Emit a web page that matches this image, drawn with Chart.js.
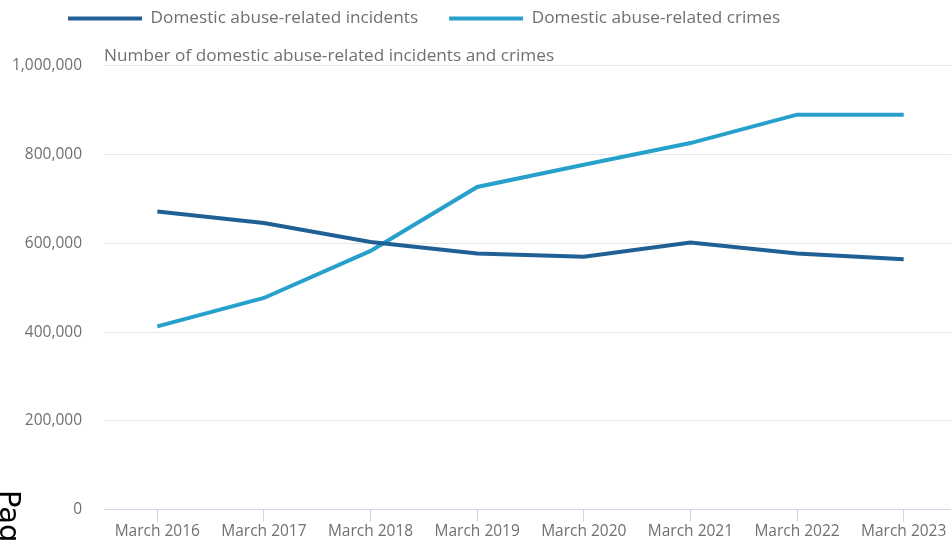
<!DOCTYPE html>
<html lang="en">
<head>
<meta charset="utf-8">
<title>Domestic abuse-related incidents and crimes</title>
<script src="https://cdn.jsdelivr.net/npm/chart.js@4/dist/chart.umd.min.js"></script>
<style>
    html, body { margin: 0; padding: 0; background: #fff; overflow: hidden; }
    #wrap { position: relative; width: 960px; height: 541px; }
    #page-tag {
        position: absolute;
        left: 24px;
        top: 490px;
        transform: rotate(90deg);
        transform-origin: 0 0;
        font-family: "DejaVu Sans", sans-serif;
        font-size: 29px;
        line-height: 28px;
        color: #000;
        white-space: nowrap;
    }
</style>
</head>
<body>
<div id="wrap">
    <canvas id="daChart" width="960" height="541"></canvas>
    <div id="page-tag">Page</div>
</div>
<script>
// Year ending March, England and Wales
const years = ["March 2016", "March 2017", "March 2018", "March 2019",
               "March 2020", "March 2021", "March 2022", "March 2023"];
const incidents = [672000, 646000, 603000, 577000, 570000, 602000, 577000, 564000];
const crimes = [413000, 477000, 583000, 727000, 777000, 826000, 890000, 890000];
const yTicks = [0, 200000, 400000, 600000, 800000, 1000000];

const darkBlue = "#206095";
const lightBlue = "#27a0cc";
const textGrey = "#707070";

Chart.defaults.font.family = "'Open Sans', sans-serif";
Chart.defaults.animation = false;

// nudge the legend to the right so the key starts nearer the plot
const legendShift = {
    id: "legendShift",
    afterLayout(chart) {
        chart.legend.left += 29;
        chart.legend.right += 29;
    }
};

new Chart(document.getElementById("daChart"), {
    type: "line",
    data: {
        labels: years,
        datasets: [{
            label: "Domestic abuse-related incidents",
            data: incidents,
            borderColor: darkBlue,
            backgroundColor: darkBlue,
            borderWidth: 4,
            pointRadius: 0,
            tension: 0
        }, {
            label: "Domestic abuse-related crimes",
            data: crimes,
            borderColor: lightBlue,
            backgroundColor: lightBlue,
            borderWidth: 4,
            pointRadius: 0,
            tension: 0
        }]
    },
    plugins: [legendShift],
    options: {
        responsive: false,
        layout: { padding: { left: 8, right: 3, top: -21, bottom: -2 } },
        plugins: {
            legend: {
                position: "top",
                align: "start",
                labels: {
                    boxWidth: 74,
                    boxHeight: 4,
                    padding: 31,
                    color: textGrey,
                    font: { size: 17.2 },
                    // plain thick line as the key, no outline
                    generateLabels(chart) {
                        return Chart.defaults.plugins.legend.labels.generateLabels(chart).map(item => {
                            item.lineWidth = 0;
                            item.fillStyle = item.strokeStyle;
                            return item;
                        });
                    }
                }
            },
            title: {
                display: true,
                text: "Number of domestic abuse-related incidents and crimes",
                align: "start",
                fullSize: false,
                weight: 500,
                color: textGrey,
                font: { size: 17.2, weight: "normal" },
                padding: { top: 9, bottom: -1 }
            },
            tooltip: { enabled: false }
        },
        scales: {
            x: {
                offset: true,
                border: { color: "#ccd6eb", width: 1 },
                grid: {
                    drawOnChartArea: false,
                    drawTicks: true,
                    tickLength: 12,
                    color: "#ccd6eb"
                },
                ticks: {
                    color: textGrey,
                    font: { size: 15.5 },
                    padding: 1,
                    maxRotation: 0,
                    autoSkip: false
                }
            },
            y: {
                min: 0,
                max: 1000000,
                afterBuildTicks(scale) {
                    scale.ticks = yTicks.map(v => ({ value: v }));
                },
                afterFit(scale) {
                    scale.width = 96;
                },
                border: { display: false },
                grid: { color: "#e6e6e6", drawTicks: false },
                ticks: {
                    color: textGrey,
                    font: { size: 15.5 },
                    padding: 22,
                    callback: v => v.toLocaleString("en-GB")
                }
            }
        }
    }
});
</script>
</body>
</html>
